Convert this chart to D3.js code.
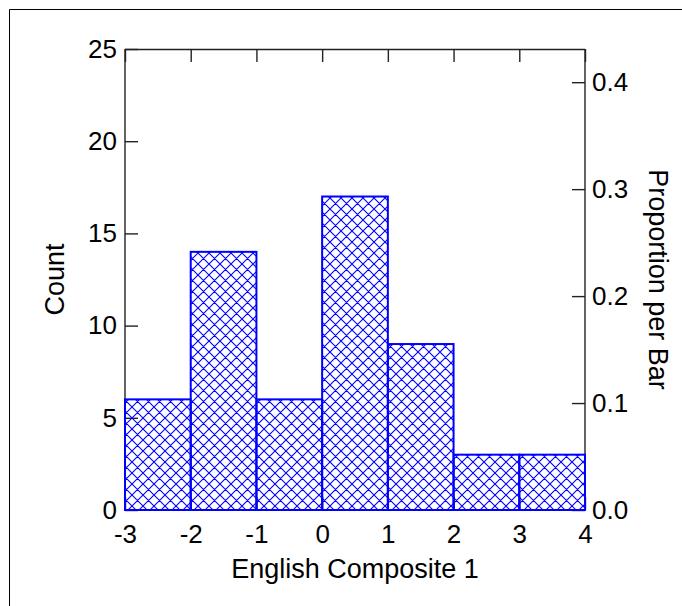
<!DOCTYPE html>
<html><head><meta charset="utf-8">
<script src="https://cdn.jsdelivr.net/npm/d3@7"></script>
<style>body{margin:0;background:#fff}svg{display:block}text{font-family:"Liberation Sans",Arial,sans-serif;fill:#000}</style>
</head><body>
<script>
const binStarts = [-3, -2, -1, 0, 1, 2, 3];
const counts = [6, 14, 6, 17, 9, 3, 3];
const xTicks = [-3, -2, -1, 0, 1, 2, 3, 4];
const countTicks = [0, 5, 10, 15, 20, 25];
const propTicks = [0.0, 0.1, 0.2, 0.3, 0.4];
const xLabel = "English Composite 1";
const yLabel = "Count";
const y2Label = "Proportion per Bar";

const W = 682, H = 606;
const m = {l:125, t:49, r:585, b:510};
const total = d3.sum(counts);
const svg = d3.select("body").append("svg").attr("width", W).attr("height", H);

const x = d3.scaleLinear().domain([-3, 4]).range([m.l, m.r]);
const y = d3.scaleLinear().domain([0, 25]).range([m.b, m.t]);
const y2 = d3.scaleLinear().domain([0, 25 / total]).range([m.b, m.t]);

// outer frame (top and left edges)
svg.append("path").attr("d", `M9.5,${H+5} V9.5 H${W+5}`).attr("fill","none").attr("stroke","#000").attr("stroke-width",1);

const defs = svg.append("defs");
const pat = defs.append("pattern").attr("id","hatch").attr("patternUnits","userSpaceOnUse")
  .attr("width", 11).attr("height", 11);
pat.append("path").attr("d","M0,0 L11,11 M-1,10 L1,12 M10,-1 L12,1 M11,0 L0,11 M-1,1 L1,-1 M10,12 L12,10")
  .attr("stroke","#0000ff").attr("stroke-width",1.1).attr("fill","none");

const data = binStarts.map((s,i)=>({s, c:counts[i]}));

const axisColor = "#222";
svg.append("line").attr("x1",m.l).attr("x2",m.r).attr("y1",m.t+0.5).attr("y2",m.t+0.5).attr("stroke",axisColor).attr("stroke-width",1.4);
svg.append("line").attr("x1",m.l).attr("x2",m.l).attr("y1",m.t).attr("y2",m.b).attr("stroke",axisColor).attr("stroke-width",1.4);
svg.append("line").attr("x1",m.r).attr("x2",m.r).attr("y1",m.t).attr("y2",m.b).attr("stroke",axisColor).attr("stroke-width",1.4);

const fmtInt = d => String(d);
const gl = svg.append("g").attr("transform",`translate(${m.l},0)`)
  .call(d3.axisLeft(y).tickValues(countTicks).tickSize(-13).tickPadding(8).tickFormat(fmtInt));
const gr = svg.append("g").attr("transform",`translate(${m.r},0)`)
  .call(d3.axisRight(y2).tickValues(propTicks).tickSize(-13).tickPadding(7).tickFormat(d => d.toFixed(1)));
const gt = svg.append("g").attr("transform",`translate(0,${m.t})`)
  .call(d3.axisTop(x).tickValues(xTicks).tickSize(-13).tickFormat(""));
const gb = svg.append("g").attr("transform",`translate(0,${m.b})`)
  .call(d3.axisBottom(x).tickValues(xTicks).tickSize(-13).tickPadding(15).tickFormat(fmtInt));

[gl,gr,gt,gb].forEach(g=>{
  g.attr("font-size", null).attr("font-family", null);
  g.select(".domain").remove();
  g.selectAll(".tick line").attr("stroke",axisColor).attr("stroke-width",1.4);
  g.selectAll("text").style("font-size","26px").attr("fill","#000").style("font-family","'Liberation Sans',Arial,sans-serif");
});

const bars = svg.append("g");
bars.selectAll("rect").data(data).join("rect")
  .attr("x", d=>x(d.s)).attr("width", d=>x(d.s+1)-x(d.s))
  .attr("y", d=>y(d.c)).attr("height", d=>y(0)-y(d.c))
  .attr("fill","url(#hatch)").attr("stroke","#0000ff").attr("stroke-width",2);

svg.append("line").attr("x1",m.l).attr("x2",m.r).attr("y1",m.b).attr("y2",m.b).attr("stroke","#0000ff").attr("stroke-width",2);

svg.append("text").attr("x",355).attr("y",578).attr("text-anchor","middle").style("font-size","27px").text(xLabel);
svg.append("text").attr("transform",`translate(64,${(m.t+m.b)/2}) rotate(-90)`).attr("text-anchor","middle").style("font-size","27px").text(yLabel);
svg.append("text").attr("transform",`translate(649,${(m.t+m.b)/2}) rotate(90)`).attr("text-anchor","middle").style("font-size","27px").text(y2Label);
</script>
</body></html>
